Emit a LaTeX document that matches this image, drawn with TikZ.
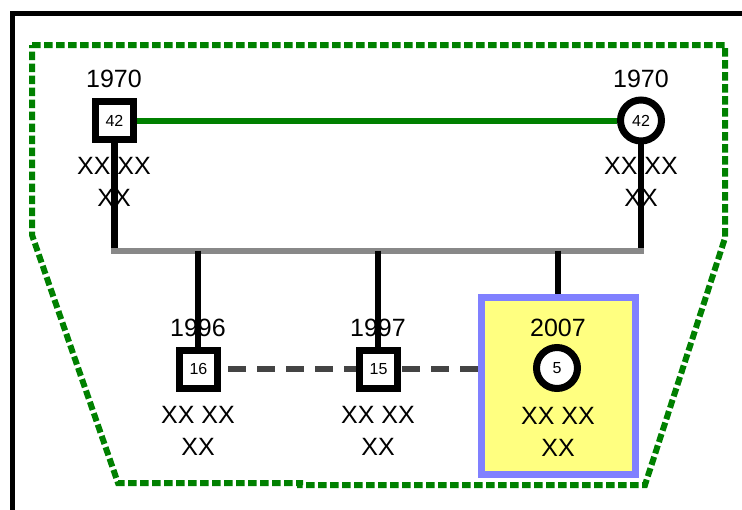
\documentclass[tikz,border=0pt]{standalone}
\usepackage{fontspec}
\setmainfont{Liberation Sans}
\definecolor{dgreen}{RGB}{0,128,0}
\definecolor{bargray}{RGB}{136,136,136}
\definecolor{dashgray}{RGB}{68,68,68}
\definecolor{boxblue}{RGB}{128,128,255}
\definecolor{boxyellow}{RGB}{255,255,128}
\pgfdeclarelayer{bg}
\pgfdeclarelayer{lines}
\pgfsetlayers{bg,lines,main}
\begin{document}
\begin{tikzpicture}[x=1pt,y=-1pt,
  male/.style={draw=black,fill=white,line width=7pt,rectangle,minimum size=38pt,inner sep=0pt,font=\fontsize{16}{18}\selectfont},
  female/.style={draw=black,fill=white,line width=7pt,circle,minimum size=41pt,inner sep=0pt,font=\fontsize{16}{18}\selectfont},
  lbl/.style={inner sep=0pt,font=\fontsize{25}{32}\selectfont,align=center},
  rel/.style={line width=6.5pt,black},
  focus/.style={draw=boxblue,fill=boxyellow,line width=7pt,rectangle,minimum width=154pt,minimum height=177pt,inner sep=0pt}]
\useasboundingbox (0,0) rectangle (742,509);
% person nodes (main layer, on top)
\node[male] (p1) at (114.5,120.5) {42};
\node[female] (p2) at (641,120.5) {42};
\node[male] (c1) at (198.5,369) {16};
\node[male] (c2) at (378.5,369) {15};
\node[female] (c3) at (557,368) {5};
\begin{pgfonlayer}{bg}
\begin{scope}
\clip (0,0) rectangle (742,509);
\draw[line width=5pt] (12,520) -- (12,13) -- (750,13);
\end{scope}
% household boundary
\draw[dgreen,line width=6pt,dash pattern=on 8.5pt off 3.5pt]
  (32,45) -- (725,45) -- (725,238) -- (645,485) -- (300,485) -- (300,483) -- (118,483) -- (32,235) -- cycle;
% yellow focus box
\node[focus] (box) at (558.5,386) {};
% labels
\node[lbl,anchor=base] (l1) at (114,87) {1970};
\node[lbl,anchor=base] (l1b) at (114,206) {XX XX\\XX};
\node[lbl,anchor=base] (l2) at (641,87) {1970};
\node[lbl,anchor=base] (l2b) at (641,206) {XX XX\\XX};
\node[lbl,anchor=base] (l3) at (198,336) {1996};
\node[lbl,anchor=base] (l3b) at (198,455) {XX XX\\XX};
\node[lbl,anchor=base] (l4) at (378,336) {1997};
\node[lbl,anchor=base] (l4b) at (378,455) {XX XX\\XX};
\node[lbl,anchor=base] (l5) at (558,336) {2007};
\node[lbl,anchor=base] (l5b) at (558,456) {XX XX\\XX};
\end{pgfonlayer}
% coordinates
\coordinate (barL) at (111,250.5);
\coordinate (barR) at (644,250.5);
\coordinate (d1) at (198,250.5);
\coordinate (d2) at (378,250.5);
\coordinate (d3) at (558,250.5);
\begin{pgfonlayer}{lines}
\draw[rel] (p1.center) -- (p1.center |- barL);
\draw[rel] (p2.center) -- (p2.center |- barR);
\draw[line width=6pt,bargray] (barL) -- (barR);
\draw[rel] (d1) -- (d1 |- c1.center);
\draw[rel] (d2) -- (d2 |- c2.center);
\draw[rel] (d3) -- (d3 |- box.north);
\draw[line width=6.5pt,dashgray,dash pattern=on 18pt off 11pt,dash phase=22pt] (c1.east) -- (c1.east -| box.west);
\draw[dgreen,line width=6pt] (p1.east) -- (p2.west);
\end{pgfonlayer}
\end{tikzpicture}
\end{document}
